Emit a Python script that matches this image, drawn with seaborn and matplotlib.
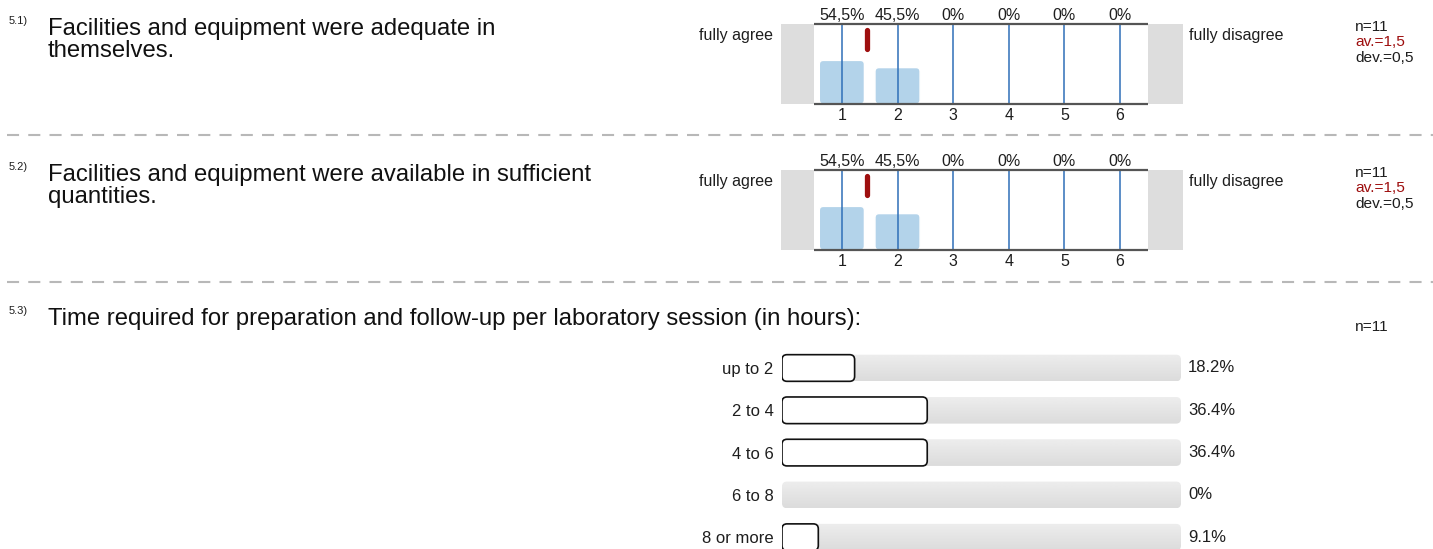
import matplotlib.pyplot as plt
from matplotlib.patches import FancyBboxPatch
from matplotlib.lines import Line2D
import numpy as np
import pandas as pd
import seaborn as sns

sns.set_theme(style="white")
plt.rcParams['font.family'] = ['Liberation Sans', 'DejaVu Sans']

# --- data ---
scale_points = ["1", "2", "3", "4", "5", "6"]
q51_pct = [54.5, 45.5, 0, 0, 0, 0]
q52_pct = [54.5, 45.5, 0, 0, 0, 0]
q51_stats = ["n=11", "av.=1,5", "dev.=0,5"]
q52_stats = ["n=11", "av.=1,5", "dev.=0,5"]
q51_text = ["Facilities and equipment were adequate in", "themselves."]
q52_text = ["Facilities and equipment were available in sufficient", "quantities."]
q53_text = "Time required for preparation and follow-up per laboratory session (in hours):"
hours_labels = ["up to 2", "2 to 4", "4 to 6", "6 to 8", "8 or more"]
hours_pct = [18.2, 36.4, 36.4, 0, 9.1]
q53_n = "n=11"

W, H = 1433, 549
fig = plt.figure(figsize=(W / 100, H / 100), dpi=100)

BIG = 17.2
SMALL = 11.5
TINY = 8
RED = "#9e0f0f"
INK = "#1e1e1e"


def px_axes(x0, y0, x1, y1):
    # pixel box (top-left origin) -> axes
    return fig.add_axes([x0 / W, 1 - y1 / H, (x1 - x0) / W, (y1 - y0) / H])


def ftext(x, y, s, **kw):
    fig.text(x / W, 1 - y / H, s, **kw)


def round_bars(ax, rad_px, px_x, px_y, patches=None):
    # swap seaborn rectangles for rounded ones
    out = []
    for p in list(patches if patches is not None else ax.patches):
        x, y, w, h = p.get_x(), p.get_y(), p.get_width(), p.get_height()
        fc, ec, lw = p.get_facecolor(), p.get_edgecolor(), p.get_linewidth()
        z = p.get_zorder()
        p.remove()
        if w == 0 or h == 0:
            continue
        fb = FancyBboxPatch((x, y), w, h,
                            boxstyle=f"round,pad=0,rounding_size={rad_px * px_x}",
                            mutation_aspect=px_y / px_x,
                            fc=fc, ec=ec, lw=lw, zorder=z)
        ax.add_patch(fb)
        out.append(fb)
    return out


def pct_comma(v):
    return "0%" if v == 0 else f"{v:.1f}%".replace(".", ",")


def scale_panel(top, pct, qtext, num, stats):
    unit = 55.6
    ax = px_axes(781, top, 1183, top + 80)
    left = -0.5 - 33 / unit
    right = 5.5 + 35 / unit
    df = pd.DataFrame({"point": scale_points, "pct": pct})
    sns.barplot(data=df, x="point", y="pct", color="#b3d3ea", saturation=1,
                width=0.81, ax=ax, zorder=1)
    ax.set_xlim(left, right)
    ax.set_ylim(0, 100)
    round_bars(ax, 4, 1 / unit, 100 / 80)
    ax.axvspan(left, -0.5, color="#dddddd", lw=0)
    ax.axvspan(5.5, right, color="#dddddd", lw=0)
    ax.vlines(range(len(scale_points)), 0, 100, color="#2f6fb8", lw=1.1, zorder=2)
    ax.hlines([0, 100], -0.5, 5.5, color="#555555", lw=1.6, zorder=3, clip_on=False)
    # mean marker
    mean = sum((i + 1) * p for i, p in enumerate(pct)) / sum(pct)
    ax.plot([mean - 1, mean - 1], [69, 92], color=RED, lw=3.8,
            solid_capstyle="round", zorder=4)
    for i, p in enumerate(pct):
        ax.text(i, 100 + 4 * 1.25, pct_comma(p), ha="center", va="baseline",
                fontsize=SMALL, color=INK, clip_on=False)
    ax.set_xlabel("")
    ax.set_ylabel("")
    ax.set_yticks([])
    ax.tick_params(axis="x", length=0, pad=3, labelsize=SMALL, colors=INK)
    for s in ax.spines.values():
        s.set_visible(False)

    ftext(773, top + 16, "fully agree", ha="right", va="baseline", fontsize=SMALL, color=INK)
    ftext(1189, top + 16, "fully disagree", ha="left", va="baseline", fontsize=SMALL, color=INK)
    for k, (s, c) in enumerate(zip(stats, [INK, RED, INK])):
        ftext(1355, top + 7 + 15.5 * k, s, ha="left", va="baseline", fontsize=SMALL * 0.97, color=c)
    ftext(9, top + 0.5, num, ha="left", va="baseline", fontsize=TINY, color=INK)
    for k, line in enumerate(qtext):
        ftext(48, top + 11.5 + 21.5 * k, line, ha="left", va="baseline", fontsize=BIG, color="#111111")


scale_panel(24, q51_pct, q51_text, "5.1)", q51_stats)
scale_panel(170, q52_pct, q52_text, "5.2)", q52_stats)

# dashed separators
for y in [135, 282]:
    fig.add_artist(Line2D([0.005, 1], [1 - y / H, 1 - y / H], transform=fig.transFigure,
                          color="#b8b8b8", lw=1.5, linestyle=(0, (5.8, 4.4))))

# --- 5.3 horizontal bars ---
ftext(9, 314, "5.3)", ha="left", va="baseline", fontsize=TINY, color=INK)
ftext(48, 325, q53_text, ha="left", va="baseline", fontsize=BIG, color="#111111")
ftext(1355, 331, q53_n, ha="left", va="baseline", fontsize=SMALL * 0.97, color=INK)

row = 42.3
top3 = 368 - row / 2
ax3 = px_axes(782, top3, 1181, H)
hdf = pd.DataFrame({"label": hours_labels, "pct": hours_pct, "full": [100] * len(hours_labels)})
px_x, px_y = 100 / 399, 1 / row

# grey tracks (100%) with a soft vertical gradient
sns.barplot(data=hdf, y="label", x="full", color="#e2e2e2", saturation=1,
            width=0.63, ax=ax3, lw=0, zorder=1)
ax3.set_xlim(0, 100)
ax3.set_ylim(-0.5 + (H - top3) / row, -0.5)
tracks = round_bars(ax3, 5, px_x, px_y)
grad = np.linspace(0.93, 0.86, 64).reshape(-1, 1)
for t in tracks:
    x, y, w, h = t.get_x(), t.get_y(), t.get_width(), t.get_height()
    t.set_facecolor("none")
    im = ax3.imshow(grad, cmap="gray", vmin=0, vmax=1, aspect="auto",
                    extent=(x, x + w, y + h, y), zorder=1, interpolation="bilinear")
    im.set_clip_path(t)

# answer shares as outlined white boxes
sns.barplot(data=hdf, y="label", x="pct", color="white", saturation=1,
            width=0.63, ax=ax3, edgecolor="#111111", lw=1.2, zorder=3)
round_bars(ax3, 5, px_x, px_y, [p for p in ax3.patches if p not in tracks])
ax3.set_xlim(0, 100)
ax3.set_ylim(-0.5 + (H - top3) / row, -0.5)
for i, p in enumerate(hours_pct):
    txt = "0%" if p == 0 else f"{p:.1f}%"
    ax3.annotate(txt, xy=(100, i), xytext=(5, 0), textcoords="offset points",
                 va="center", ha="left", fontsize=12, color=INK, annotation_clip=False)
ax3.set_xlabel("")
ax3.set_ylabel("")
ax3.set_xticks([])
ax3.tick_params(axis="y", length=0, pad=6, labelsize=12, colors=INK)
for s in ax3.spines.values():
    s.set_visible(False)

fig.savefig("out.png", dpi=100)
